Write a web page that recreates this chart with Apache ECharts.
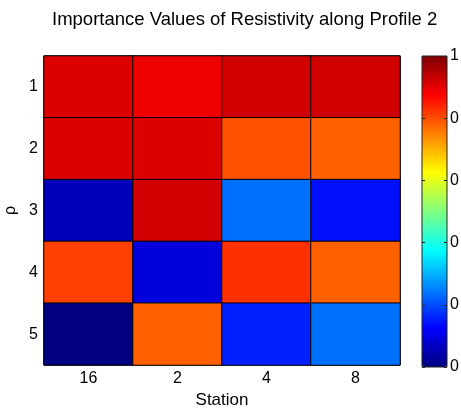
<!DOCTYPE html>
<html>
<head>
<meta charset="utf-8">
<script src="https://cdn.jsdelivr.net/npm/echarts@6/dist/echarts.min.js"></script>
<style>
  html, body { margin: 0; padding: 0; background: #fff; }
  #chart { width: 461px; height: 408px; }
</style>
</head>
<body>
<div id="chart"></div>
<script>
// Stations along the profile (columns) and depth levels rho (rows)
const stations = ['16', '2', '4', '8'];
const depthLevels = ['1', '2', '3', '4', '5'];

// Normalised importance value of resistivity, one list per depth level
const level1 = [0.908, 0.892, 0.921, 0.921];
const level2 = [0.908, 0.908, 0.796, 0.781];
const level3 = [0.058, 0.921, 0.235, 0.141];
const level4 = [0.8125, 0.092, 0.828, 0.781];
const level5 = [0.0, 0.781, 0.156, 0.235];

// Colour bar scale and its tick labels (bottom to top)
const scaleMin = 0;
const scaleMax = 1;
const scaleStep = 0.2;
const colorbarLabels = ['0', '0', '0', '0', '0', '1'];

// Jet colormap stops, evenly spaced from 0 to 1
const jetStops = ['#000080', '#0000ff', '#0080ff', '#00ffff', '#80ff80',
                  '#ffff00', '#ff8000', '#ff0000', '#800000'];

const levels = [level1, level2, level3, level4, level5];
const cells = [];
levels.forEach((row, yi) => {
  row.forEach((v, xi) => cells.push([xi, yi, v]));
});

const FONT = '"Liberation Sans", Arial, sans-serif';
const chart = echarts.init(document.getElementById('chart'), null, { renderer: 'canvas' });

chart.setOption({
  animation: false,
  backgroundColor: '#fff',
  title: {
    text: 'Importance Values of Resistivity along Profile 2',
    left: 52,
    top: 10,
    padding: 0,
    textStyle: { fontFamily: FONT, fontSize: 18.5, fontWeight: 'normal', color: '#000' }
  },
  grid: [
    { left: 44, top: 56, width: 356, height: 309, show: true, outerBoundsMode: 'none',
      containLabel: false,
      borderColor: '#000', borderWidth: 1, backgroundColor: 'transparent' },
    { left: 422, top: 56, width: 25, height: 311, show: true, outerBoundsMode: 'none',
      containLabel: false,
      borderColor: '#222', borderWidth: 1, backgroundColor: 'transparent', z: 10 }
  ],
  xAxis: [
    { gridIndex: 0, type: 'category', data: stations,
      name: 'Station', nameLocation: 'middle', nameGap: 27,
      nameTextStyle: { fontFamily: FONT, fontSize: 17, color: '#000' },
      axisLine: { show: false }, axisTick: { show: false }, splitLine: { show: false },
      axisLabel: { fontFamily: FONT, fontSize: 16, color: '#000', margin: 6 } },
    { gridIndex: 1, type: 'value', min: 0, max: 1, show: false }
  ],
  yAxis: [
    { gridIndex: 0, type: 'category', data: depthLevels, inverse: true,
      name: 'ρ', nameLocation: 'middle', nameGap: 16, nameRotate: 90,
      nameTextStyle: { fontFamily: FONT, fontSize: 16, color: '#000' },
      axisLine: { show: false }, axisTick: { show: false }, splitLine: { show: false },
      axisLabel: { fontFamily: FONT, fontSize: 16, color: '#000', margin: 6 } },
    { gridIndex: 1, type: 'value', min: scaleMin, max: scaleMax, interval: scaleStep,
      position: 'left', z: 10,
      axisLine: { show: false }, splitLine: { show: false }, axisLabel: { show: false },
      axisTick: { show: true, inside: true, length: 3, lineStyle: { color: '#222' } } },
    { gridIndex: 1, type: 'value', min: scaleMin, max: scaleMax, interval: scaleStep,
      position: 'right', z: 10,
      axisLine: { show: false }, splitLine: { show: false },
      axisTick: { show: true, inside: true, length: 3, lineStyle: { color: '#222' } },
      axisLabel: { fontFamily: FONT, fontSize: 16, color: '#000', margin: 3,
        formatter: (v) => colorbarLabels[Math.round((v - scaleMin) / scaleStep)] } }
  ],
  visualMap: {
    type: 'continuous',
    min: scaleMin,
    max: scaleMax,
    seriesIndex: 0,
    calculable: false,
    realtime: false,
    hoverLink: false,
    left: 422,
    top: 56,
    padding: 0,
    itemWidth: 25,
    itemHeight: 311,
    text: null,
    showLabel: false,
    z: 2,
    inRange: { color: jetStops }
  },
  series: [
    {
      type: 'heatmap',
      xAxisIndex: 0,
      yAxisIndex: 0,
      data: cells,
      itemStyle: { borderColor: '#000', borderWidth: 1 },
      emphasis: { disabled: true },
      label: { show: false }
    }
  ]
});
</script>
</body>
</html>
